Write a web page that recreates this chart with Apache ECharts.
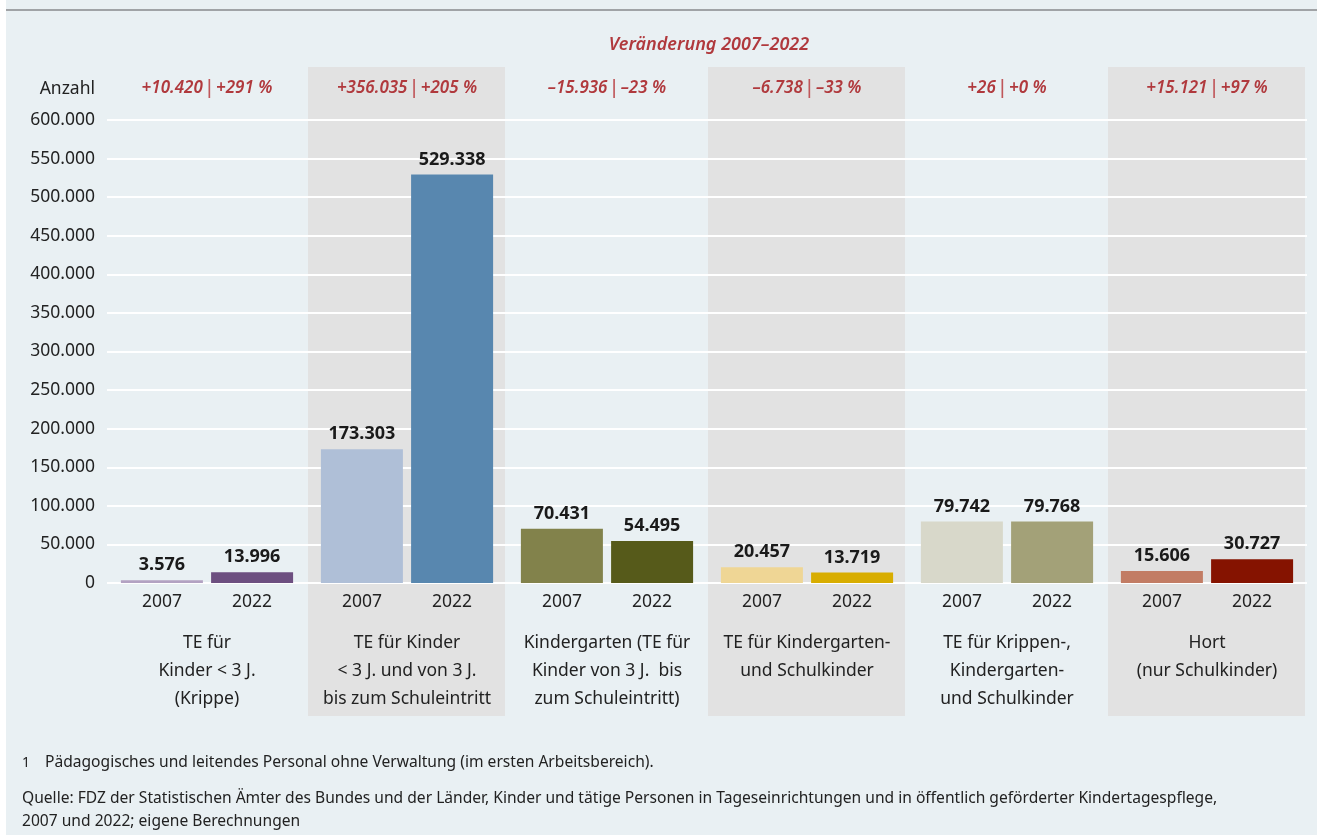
<!DOCTYPE html>
<html lang="de" style="height: 100%">

<head>
  <meta charset="utf-8">
  <title>Tätige Personen nach Einrichtungsart</title>
  <script src="https://cdn.jsdelivr.net/npm/echarts@6.0.0/dist/echarts.min.js"></script>
</head>

<body style="height: 100%; margin: 0; background: #ffffff">
  <div id="chart" style="height: 835px; width: 1317px"></div>
  <script type="text/javascript">
    // Kategorien (Einrichtungsarten)
    const groups = [
      'TE für\nKinder < 3 J.\n(Krippe)',
      'TE für Kinder\n< 3 J. und von 3 J.\nbis zum Schuleintritt',
      'Kindergarten (TE für\nKinder von 3 J.  bis\nzum Schuleintritt)',
      'TE für Kindergarten-\nund Schulkinder',
      'TE für Krippen-,\nKindergarten-\nund Schulkinder',
      'Hort\n(nur Schulkinder)'
    ];
    const years = ['2007', '2022'];
    const values2007 = [3576, 173303, 70431, 20457, 79742, 15606];
    const values2022 = [13996, 529338, 54495, 13719, 79768, 30727];
    const changeAbs = ['+10.420', '+356.035', '–15.936', '–6.738', '+26', '+15.121'];
    const changePct = ['+291 %', '+205 %', '–23 %', '–33 %', '+0 %', '+97 %'];
    const colors2007 = ['#b3a2c2', '#afbfd7', '#82824b', '#efd695', '#d8d8ca', '#c27c64'];
    const colors2022 = ['#6d4f80', '#5887af', '#565a1a', '#d8ad00', '#a3a178', '#851300'];
    const yTicks = { min: 0, max: 600000, interval: 50000 };

    const FONT = 'Noto Sans';
    const FS = 17.5;
    const TEXT = '#222222';
    const RED = '#b0393d';

    // Tausenderpunkt wie im Original
    const fmt = v => String(v).replace(/\B(?=(\d{3})+(?!\d))/g, '.');

    const yearCats = [];
    groups.forEach(() => years.forEach(y => yearCats.push(y)));

    const chart = echarts.init(document.getElementById('chart'));

    const barSeries = (name, values, colors) => ({
      name: name,
      type: 'bar',
      xAxisIndex: 0,
      barWidth: 82,
      barGap: '10%',
      data: values.map((v, i) => ({ value: v, itemStyle: { color: colors[i] } })),
      label: {
        show: true,
        position: 'top',
        distance: 6,
        fontFamily: FONT,
        fontSize: 18,
        fontWeight: 'bold',
        color: '#1a1a1a',
        formatter: p => fmt(p.value)
      }
    });

    const option = {
      backgroundColor: '#e9f0f3',
      animation: false,
      textStyle: { fontFamily: FONT },
      grid: { left: 107, right: 10, top: 120, bottom: 252, outerBoundsMode: 'none' },
      xAxis: [{
        type: 'category',
        data: groups,
        position: 'bottom',
        axisLine: { show: false },
        axisTick: { show: false },
        axisLabel: {
          interval: 0,
          margin: 46,
          fontFamily: FONT,
          fontSize: FS,
          lineHeight: 28,
          color: TEXT,
          align: 'center'
        }
      }, {
        type: 'category',
        data: yearCats,
        position: 'bottom',
        axisLine: { show: false },
        axisTick: { show: false },
        axisLabel: {
          interval: 0,
          margin: 10,
          fontFamily: FONT,
          fontSize: FS,
          color: TEXT,
          formatter: (v, i) => (i % 2 === 0 ? '{l|' + v + '}' : '{r|' + v + '}'),
          rich: {
            l: { padding: [0, 0, 0, 10], fontFamily: FONT, fontSize: FS, color: TEXT },
            r: { padding: [0, 10, 0, 0], fontFamily: FONT, fontSize: FS, color: TEXT }
          }
        }
      }, {
        type: 'category',
        data: changeAbs.map((a, i) => a + '|' + changePct[i]),
        position: 'top',
        axisLine: { show: false },
        axisTick: { show: false },
        axisLabel: {
          interval: 0,
          margin: 22,
          formatter: v => {
            const parts = v.split('|');
            return '{a|' + parts[0] + '}{s||}{a|' + parts[1] + '}';
          },
          rich: {
            a: { fontFamily: FONT, fontSize: 17, fontStyle: 'italic', fontWeight: 600, color: RED },
            s: { fontFamily: 'Liberation Sans', fontSize: 20, fontWeight: 'normal', color: '#c0575a', padding: [0, 4] }
          }
        }
      }],
      yAxis: {
        type: 'value',
        min: yTicks.min,
        max: yTicks.max,
        interval: yTicks.interval,
        name: 'Anzahl',
        nameLocation: 'end',
        nameGap: 22,
        nameTextStyle: { fontFamily: FONT, fontSize: FS, color: TEXT, align: 'right', padding: [0, 12, 0, 0] },
        axisLine: { show: false },
        axisTick: { show: false },
        axisLabel: { fontFamily: FONT, fontSize: FS, color: TEXT, margin: 12, formatter: v => fmt(v) },
        splitLine: { lineStyle: { color: '#ffffff', width: 2 } }
      },
      series: [
        barSeries(years[0], values2007, colors2007),
        barSeries(years[1], values2022, colors2022)
      ]
    };
    chart.setOption(option);

    // graue Hinterlegung jeder zweiten Gruppe, Titel, Fußnoten
    const bandW = chart.convertToPixel({ xAxisIndex: 0 }, 1) - chart.convertToPixel({ xAxisIndex: 0 }, 0);
    const panels = [1, 3, 5].map(i => {
      const cx = chart.convertToPixel({ xAxisIndex: 0 }, i);
      return {
        type: 'rect',
        z: -10,
        shape: { x: cx - bandW / 2 + 1, y: 67, width: bandW - 3, height: 649 },
        style: { fill: '#e2e2e2' }
      };
    });
    const plotLeft = chart.convertToPixel({ xAxisIndex: 0 }, 0) - bandW / 2;
    const plotRight = chart.convertToPixel({ xAxisIndex: 0 }, groups.length - 1) + bandW / 2;

    chart.setOption({
      graphic: [
        ...panels,
        {
          type: 'rect',
          z: -10,
          shape: { x: 0, y: 0, width: 6, height: 835 },
          style: { fill: '#ffffff' }
        },
        {
          type: 'line',
          shape: { x1: 6, y1: 10, x2: 1317, y2: 10 },
          style: { stroke: '#a0a3a6', lineWidth: 2 }
        },
        {
          type: 'text',
          x: (plotLeft + plotRight) / 2 + 2,
          y: 45,
          style: {
            text: 'Veränderung 2007–2022',
            fontFamily: FONT, fontSize: 18, fontStyle: 'italic', fontWeight: 600,
            fill: RED, align: 'center', verticalAlign: 'middle'
          }
        },
        {
          type: 'text',
          x: 22, y: 763,
          style: { text: '1', fontFamily: FONT, fontSize: 14, fill: TEXT, verticalAlign: 'middle' }
        },
        {
          type: 'text',
          x: 45, y: 763,
          style: {
            text: 'Pädagogisches und leitendes Personal ohne Verwaltung (im ersten Arbeitsbereich).',
            fontFamily: FONT, fontSize: 15.6, fill: TEXT, verticalAlign: 'middle'
          }
        },
        {
          type: 'text',
          x: 22, y: 787,
          style: {
            text: 'Quelle: FDZ der Statistischen Ämter des Bundes und der Länder, Kinder und tätige Personen in Tageseinrichtungen und in öffentlich geförderter Kindertagespflege,\n2007 und 2022; eigene Berechnungen',
            fontFamily: FONT, fontSize: 15.6, lineHeight: 23, fill: TEXT, verticalAlign: 'top'
          }
        }
      ]
    });
  </script>
</body>

</html>
